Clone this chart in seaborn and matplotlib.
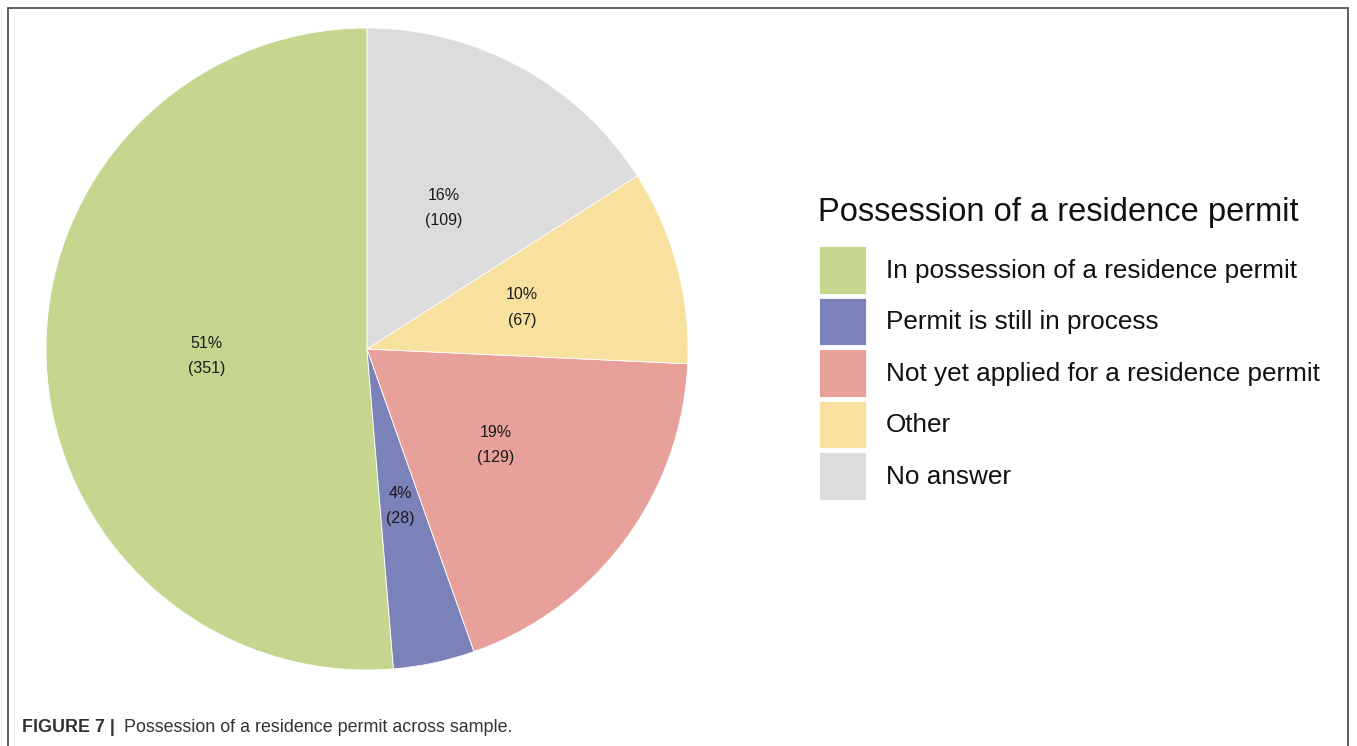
import numpy as np
import seaborn as sns
import matplotlib.pyplot as plt
from matplotlib.patches import Rectangle

# data
categories = ['In possession of a residence permit',
              'Permit is still in process',
              'Not yet applied for a residence permit',
              'Other',
              'No answer']
counts = [351, 28, 129, 67, 109]
colors = ['#C5D68F', '#7B82BA', '#E8A19A', '#F8E19F', '#DCDCDC']

sns.set_theme(style='white')
plt.rcParams['font.family'] = ['Liberation Sans', 'DejaVu Sans']

W, H = 1357, 746
fig = plt.figure(figsize=(W / 100, H / 100), dpi=100)

# pie axes: centre (367, 349) px, radius ~321 px
cx, cy, r = 367, 349, 321
ax = fig.add_axes([(cx - r) / W, (H - cy - r) / H, 2 * r / W, 2 * r / H])

total = sum(counts)


def fmt(pct):
    n = int(round(pct * total / 100))
    return f'{pct:.0f}%\n({n})'


wedges, _, autotexts = ax.pie(counts, colors=colors, startangle=90, counterclock=True,
                              autopct=fmt, pctdistance=0.5, radius=1,
                              wedgeprops=dict(edgecolor='white', linewidth=0.6))
for t in autotexts:
    t.set_fontsize(11.5)
    t.set_linespacing(1.85)
    t.set_color('#1a1a1a')
ax.set_xlim(-1, 1)
ax.set_ylim(-1, 1)
ax.set_aspect('equal')
ax.axis('off')

# legend title drawn separately so the gap to the keys matches
fig.text(818 / W, (H - 213) / H, 'Possession of a residence permit',
         fontsize=23.5, color='#111111', va='center', ha='left')
leg = fig.legend(wedges, categories,
                 loc='upper left', bbox_to_anchor=(819 / W, (H - 246) / H),
                 frameon=False, fontsize=18.8,
                 handlelength=1.8, handleheight=2.45, labelspacing=0.135,
                 handletextpad=0.75, borderpad=0, borderaxespad=0)
for h in leg.legend_handles:
    h.set_edgecolor('white')
for t in leg.get_texts():
    t.set_color('#111111')

# outer frame and caption
fig.add_artist(Rectangle((8 / W, -0.05), (1348 - 8) / W, (H - 8) / H + 0.05,
                         transform=fig.transFigure, fill=False,
                         edgecolor='#555555', linewidth=1.3))
cap1 = fig.text(22 / W, 18 / H, 'FIGURE 7 |', fontsize=12.9, fontweight='bold',
                color='#333333', va='center', ha='left')
fig.canvas.draw()
bb = cap1.get_window_extent()
fig.text((bb.x1 + 9) / W, 18 / H, 'Possession of a residence permit across sample.',
         fontsize=12.9, color='#333333', va='center', ha='left')

fig.savefig('out.png', dpi=100)
